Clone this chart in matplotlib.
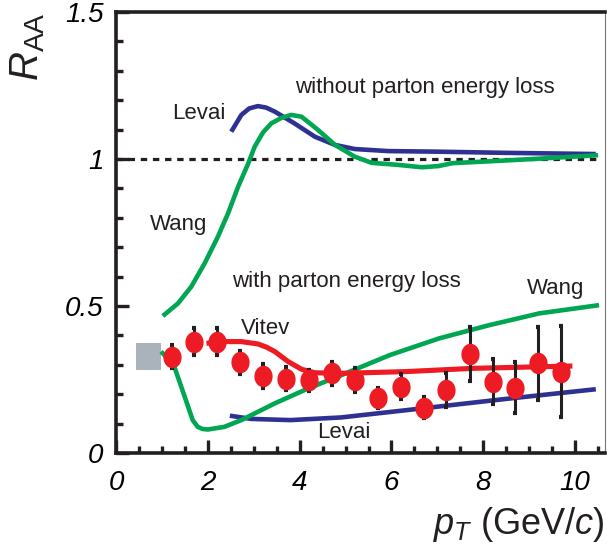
import numpy as np
import matplotlib
matplotlib.use('Agg')
import matplotlib.pyplot as plt
from matplotlib.path import Path

plt.rcParams['font.family'] = ['Liberation Sans', 'DejaVu Sans']
plt.rcParams['mathtext.fontset'] = 'custom'
plt.rcParams['mathtext.rm'] = 'Liberation Sans'
plt.rcParams['mathtext.it'] = 'Liberation Sans:italic'

# 데이터
pt_data = [1.21, 1.70, 2.19, 2.70, 3.20, 3.70, 4.20, 4.70, 5.20, 5.70,
           6.20, 6.70, 7.19, 7.70, 8.20, 8.70, 9.20, 9.69]
raa_data = [0.328, 0.379, 0.379, 0.308, 0.262, 0.253, 0.248, 0.271, 0.248, 0.186,
            0.226, 0.154, 0.214, 0.337, 0.243, 0.222, 0.305, 0.277]
raa_err = [0.040, 0.045, 0.045, 0.040, 0.040, 0.040, 0.036, 0.040, 0.040, 0.034,
           0.043, 0.036, 0.058, 0.092, 0.077, 0.086, 0.125, 0.156]

# 정규화 불확실성 박스
norm_pt = 0.70
norm_width = 0.55
norm_low = 0.282
norm_high = 0.375

# 에너지 손실 없음
wang_hi_x = [1.02, 1.35, 1.64, 1.93, 2.22, 2.44, 2.66, 2.88, 3.02, 3.2, 3.38, 3.6,
             3.82, 4.04, 4.40, 4.77, 5.2, 5.57, 6.15, 6.66, 7.02, 7.33, 8.35, 9.07, 10.5]
wang_hi_y = [0.466, 0.509, 0.566, 0.645, 0.736, 0.815, 0.906, 0.985, 1.042, 1.09, 1.121,
             1.14, 1.15, 1.144, 1.099, 1.048, 1.008, 0.987, 0.98, 0.972, 0.976, 0.986,
             0.994, 1.0, 1.013]
levai_hi_x = [2.51, 2.73, 2.9, 3.09, 3.27, 3.46, 3.89, 4.33, 4.77, 5.2, 5.93, 7.02, 8.5, 10.45]
levai_hi_y = [1.093, 1.15, 1.172, 1.18, 1.175, 1.161, 1.121, 1.076, 1.048, 1.034, 1.027,
              1.025, 1.021, 1.017]

# 에너지 손실 있음
wang_lo_x = [0.98, 1.02, 1.27, 1.42, 1.57, 1.67, 1.78, 1.88, 2.0, 2.36, 2.73, 3.46,
             4.19, 4.91, 5.96, 7.04, 8.13, 9.22, 10.52]
wang_lo_y = [0.345, 0.339, 0.294, 0.226, 0.158, 0.112, 0.089, 0.082, 0.08, 0.089, 0.112,
             0.169, 0.22, 0.265, 0.333, 0.39, 0.435, 0.475, 0.503]
vitev_x = [1.97, 2.29, 2.73, 3.09, 3.28, 3.46, 3.75, 4.04, 4.33, 4.91, 6.32, 7.77, 9.94]
vitev_y = [0.373, 0.379, 0.379, 0.371, 0.36, 0.345, 0.311, 0.285, 0.273, 0.271, 0.277,
           0.288, 0.296]
levai_lo_x = [2.48, 2.95, 3.8, 4.9, 6.68, 8.49, 10.45]
levai_lo_y = [0.127, 0.116, 0.112, 0.121, 0.152, 0.184, 0.217]

red = '#ed1c24'
green = '#00a651'
blue = '#2e3192'
ink = '#231f20'

fig = plt.figure(figsize=(6.07, 5.52), dpi=100)
ax = fig.add_axes([0.1911, 0.1793, 0.8056, 0.7989])

ax.axhline(1.0, xmin=0, xmax=10.5 / 10.65, color=ink, lw=2.3,
           linestyle=(0, (2.0, 1.8)), zorder=1)

line_kw = dict(lw=3.3, solid_capstyle='butt', solid_joinstyle='round')
ax.plot(levai_hi_x, levai_hi_y, color=blue, zorder=2, **line_kw)
ax.plot(wang_hi_x, wang_hi_y, color=green, zorder=3, **line_kw)
ax.plot(levai_lo_x, levai_lo_y, color=blue, zorder=2, **line_kw)
ax.plot(wang_lo_x, wang_lo_y, color=green, zorder=3, **line_kw)
ax.plot(vitev_x, vitev_y, color=red, zorder=3, lw=3.7, solid_capstyle='butt',
        solid_joinstyle='round')

ax.bar(norm_pt, norm_high - norm_low, bottom=norm_low, width=norm_width,
       color='#aab2bb', zorder=2)

ax.errorbar(pt_data, raa_data, yerr=raa_err, fmt='none', ecolor=ink,
            elinewidth=2.2, capsize=1.6, capthick=3, zorder=4)
t = np.linspace(0, 2 * np.pi, 41)
ellipse = Path(np.column_stack([np.cos(t), 1.18 * np.sin(t)]))
ax.plot(pt_data, raa_data, linestyle='none', marker=ellipse, markersize=15.5,
        color=red, markeredgewidth=0, zorder=5)

# 주석
fs = 16
ax.text(3.91, 1.245, 'without parton energy loss', fontsize=fs, va='center', color=ink)
ax.text(1.22, 1.155, 'Levai', fontsize=fs, va='center', color=ink)
ax.text(0.74, 0.779, 'Wang', fontsize=fs, va='center', color=ink)
ax.text(2.52, 0.585, 'with parton energy loss', fontsize=fs, va='center', color=ink)
ax.text(2.73, 0.425, 'Vitev', fontsize=fs, va='center', color=ink)
ax.text(8.96, 0.561, 'Wang', fontsize=fs, va='center', color=ink)
ax.text(4.39, 0.07, 'Levai', fontsize=fs, va='center', color=ink)

ax.set_xlim(0, 10.65)
ax.set_ylim(0, 1.5)
ax.set_xticks([0, 2, 4, 6, 8, 10])
ax.set_xticks(np.arange(0, 10.6, 0.5), minor=True)
ax.set_yticks([0, 0.5, 1, 1.5])
ax.set_yticks(np.arange(0, 1.51, 0.1), minor=True)
ax.set_xticklabels(['0', '2', '4', '6', '8', '10'], fontsize=20, style='italic')
ax.set_yticklabels(['0', '0.5', '1', '1.5'], fontsize=20, style='italic')
ax.tick_params(which='major', direction='in', length=9.5, width=2.4, color=ink)
ax.tick_params(which='minor', direction='in', length=5, width=2.4, color=ink)
ax.tick_params(axis='x', which='major', pad=12)
ax.tick_params(axis='y', which='major', pad=9)

for side in ['left', 'bottom', 'top']:
    ax.spines[side].set_linewidth(2.6)
    ax.spines[side].set_color(ink)
ax.spines['right'].set_linewidth(0.8)
ax.spines['right'].set_color('#777777')

fig.text(0.046, 0.977, r'$R_{\rm AA}$', fontsize=29, rotation=90,
         ha='center', va='top', color=ink)
fig.text(0.997, 0.049, r'$p_T$ (GeV/$c$)', fontsize=26, ha='right', va='center',
         color=ink)

fig.savefig('out.png', dpi=100)
